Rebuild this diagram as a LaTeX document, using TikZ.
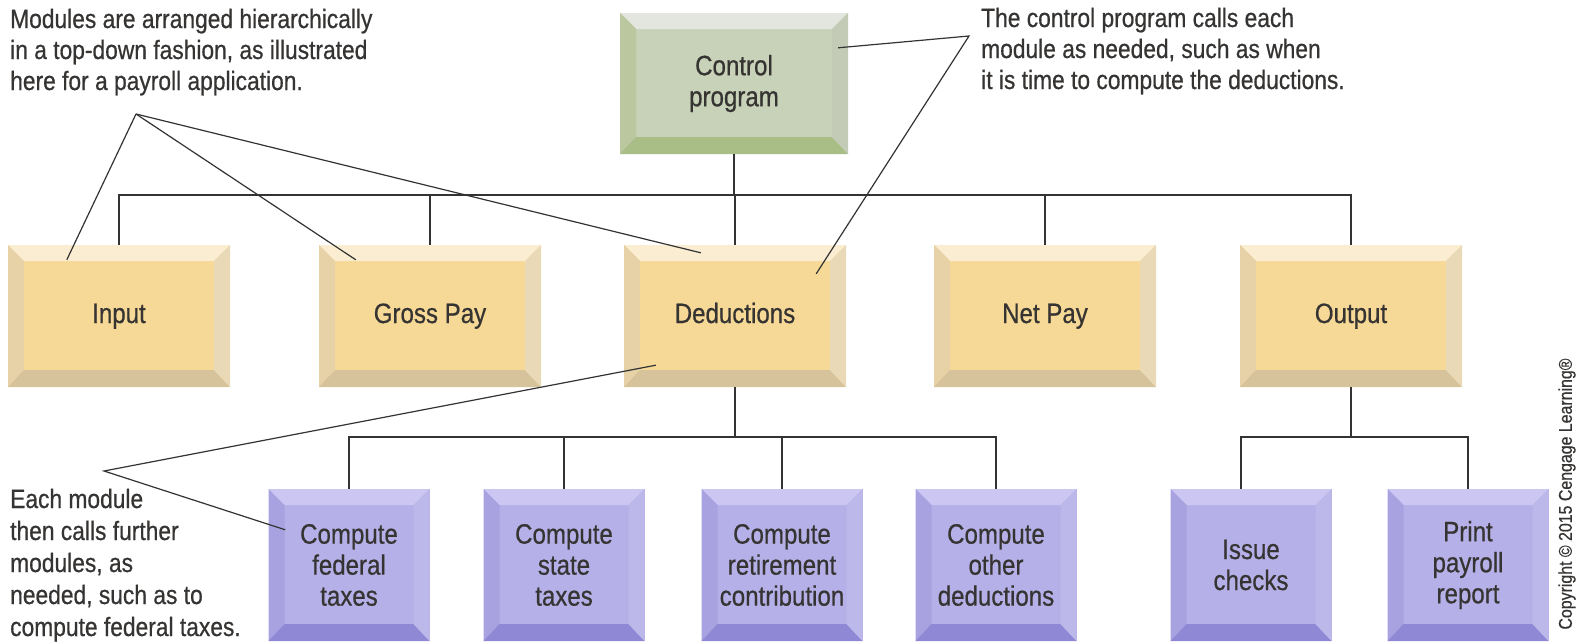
\documentclass[tikz,border=0pt]{standalone}
\usepackage{fontspec}
\setmainfont{Liberation Sans}[FakeStretch=0.86,FakeBold=0.6]
\definecolor{linec}{HTML}{333333}
\definecolor{txtc}{HTML}{363432}
\definecolor{gface}{HTML}{C8D2B8}
\definecolor{gtop}{HTML}{E3E6DE}
\definecolor{gleft}{HTML}{BAC79F}
\definecolor{gbot}{HTML}{A9BE86}
\definecolor{gright}{HTML}{C3CAB6}
\definecolor{oface}{HTML}{F6D996}
\definecolor{otop}{HTML}{FBEDD2}
\definecolor{oleft}{HTML}{E6D2A6}
\definecolor{obot}{HTML}{D7C39B}
\definecolor{oright}{HTML}{EAD9B6}
\definecolor{pface}{HTML}{B5B1E8}
\definecolor{ptop}{HTML}{CBC7F2}
\definecolor{pleft}{HTML}{A8A2E0}
\definecolor{pbot}{HTML}{8F88D4}
\definecolor{pright}{HTML}{BDB8EA}
\tikzset{
  bevel/.style n args={5}{fill=#1, draw=none, inner sep=0pt, align=center,
    text=txtc, font=\fontsize{28}{31}\selectfont,
    path picture={
      \fill[#2] (path picture bounding box.north west) -- (path picture bounding box.north east)
        -- ([shift={(-16pt,-16pt)}]path picture bounding box.north east)
        -- ([shift={(16pt,-16pt)}]path picture bounding box.north west) -- cycle;
      \fill[#3] (path picture bounding box.north west) -- (path picture bounding box.south west)
        -- ([shift={(16pt,17pt)}]path picture bounding box.south west)
        -- ([shift={(16pt,-16pt)}]path picture bounding box.north west) -- cycle;
      \fill[#4] (path picture bounding box.south west) -- (path picture bounding box.south east)
        -- ([shift={(-16pt,17pt)}]path picture bounding box.south east)
        -- ([shift={(16pt,17pt)}]path picture bounding box.south west) -- cycle;
      \fill[#5] (path picture bounding box.north east) -- (path picture bounding box.south east)
        -- ([shift={(-16pt,17pt)}]path picture bounding box.south east)
        -- ([shift={(-16pt,-16pt)}]path picture bounding box.north east) -- cycle;
    }},
  ctrlbox/.style={bevel={gface}{gtop}{gleft}{gbot}{gright}, minimum width=228pt, minimum height=141pt},
  modbox/.style={bevel={oface}{otop}{oleft}{obot}{oright}, minimum width=222pt, minimum height=142pt,
    text height=20pt, text depth=6pt},
  subbox/.style={bevel={pface}{ptop}{pleft}{pbot}{pright}, minimum width=161pt, minimum height=152pt},
  conn/.style={draw=linec, line width=1.3pt},
  callout/.style={draw=linec, line width=1.2pt},
  note/.style={anchor=base west, inner sep=0pt, text=txtc, font=\fontsize{26.5}{31}\selectfont},
}
\begin{document}
\begin{tikzpicture}[x=1pt,y=-1pt]
\useasboundingbox[fill=white] (0,0) rectangle (1583,643);

% boxes
\node[ctrlbox] (ctrl) at (734,83.5) {Control\\program};
\node[modbox] (input) at (119,316) {Input};
\node[modbox] (gross) at (430,316) {Gross Pay};
\node[modbox] (ded) at (735,316) {Deductions};
\node[modbox] (net) at (1045,316) {Net Pay};
\node[modbox] (out) at (1351,316) {Output};
\node[subbox] (fed) at (349,565) {Compute\\federal\\taxes};
\node[subbox] (state) at (564,565) {Compute\\state\\taxes};
\node[subbox] (ret) at (782,565) {Compute\\retirement\\contribution};
\node[subbox] (other) at (996,565) {Compute\\other\\deductions};
\node[subbox] (issue) at (1251,565) {Issue\\checks};
\node[subbox] (print) at (1468,565) {Print\\payroll\\report};

% tree connectors
\coordinate (bus1) at (734,195);
\coordinate (bus2) at (735,437);
\coordinate (bus3) at (1351,437);
\draw[conn] (ctrl.south) -- (bus1);
\draw[conn] (input.north) |- (bus1) -| (out.north);
\draw[conn] (gross.north) -- (gross.north |- bus1);
\draw[conn] (ded.north) -- (ded.north |- bus1);
\draw[conn] (net.north) -- (net.north |- bus1);
\draw[conn] (ded.south) -- (bus2);
\draw[conn] (fed.north) |- (bus2) -| (other.north);
\draw[conn] (state.north) -- (state.north |- bus2);
\draw[conn] (ret.north) -- (ret.north |- bus2);
\draw[conn] (out.south) -- (bus3);
\draw[conn] ([xshift=-10pt]issue.north) |- (bus3) -| (print.north);

% callouts
\coordinate (apexA) at (136,114);
\coordinate (apexB) at (969,36);
\coordinate (apexC) at (104,471);
\draw[callout] ([shift={(59pt,-15pt)}]input.north west) -- (apexA);
\draw[callout] (apexA) -- ([shift={(37pt,-15pt)}]gross.north west);
\draw[callout] (apexA) -- ([shift={(77pt,-8pt)}]ded.north west);
\draw[callout] ([shift={(-10pt,-35pt)}]ctrl.north east) -- (apexB) -- ([shift={(-30pt,-29pt)}]ded.north east);
\draw[callout] ([shift={(32pt,22pt)}]ded.south west) -- (apexC) -- ([shift={(17pt,-41pt)}]fed.north west);

% notes
\node[note] (n1a) at (10,28) {Modules are arranged hierarchically};
\node[note] (n1b) at (10,59) {in a top-down fashion, as illustrated};
\node[note] (n1c) at (10,90) {here for a payroll application.};
\node[note] (n2a) at (981,27) {The control program calls each};
\node[note] (n2b) at (981,58) {module as needed, such as when};
\node[note] (n2c) at (981,89) {it is time to compute the deductions.};
\node[note] (n3a) at (10,508) {Each module};
\node[note] (n3b) at (10,540) {then calls further};
\node[note] (n3c) at (10,572) {modules, as};
\node[note] (n3d) at (10,604) {needed, such as to};
\node[note] (n3e) at (10,636) {compute federal taxes.};

\node[rotate=90, inner sep=0pt, text=txtc, font=\fontsize{18.5}{20}\selectfont] (copy) at (1567,494) {Copyright © 2015 Cengage Learning®};
\end{tikzpicture}
\end{document}
